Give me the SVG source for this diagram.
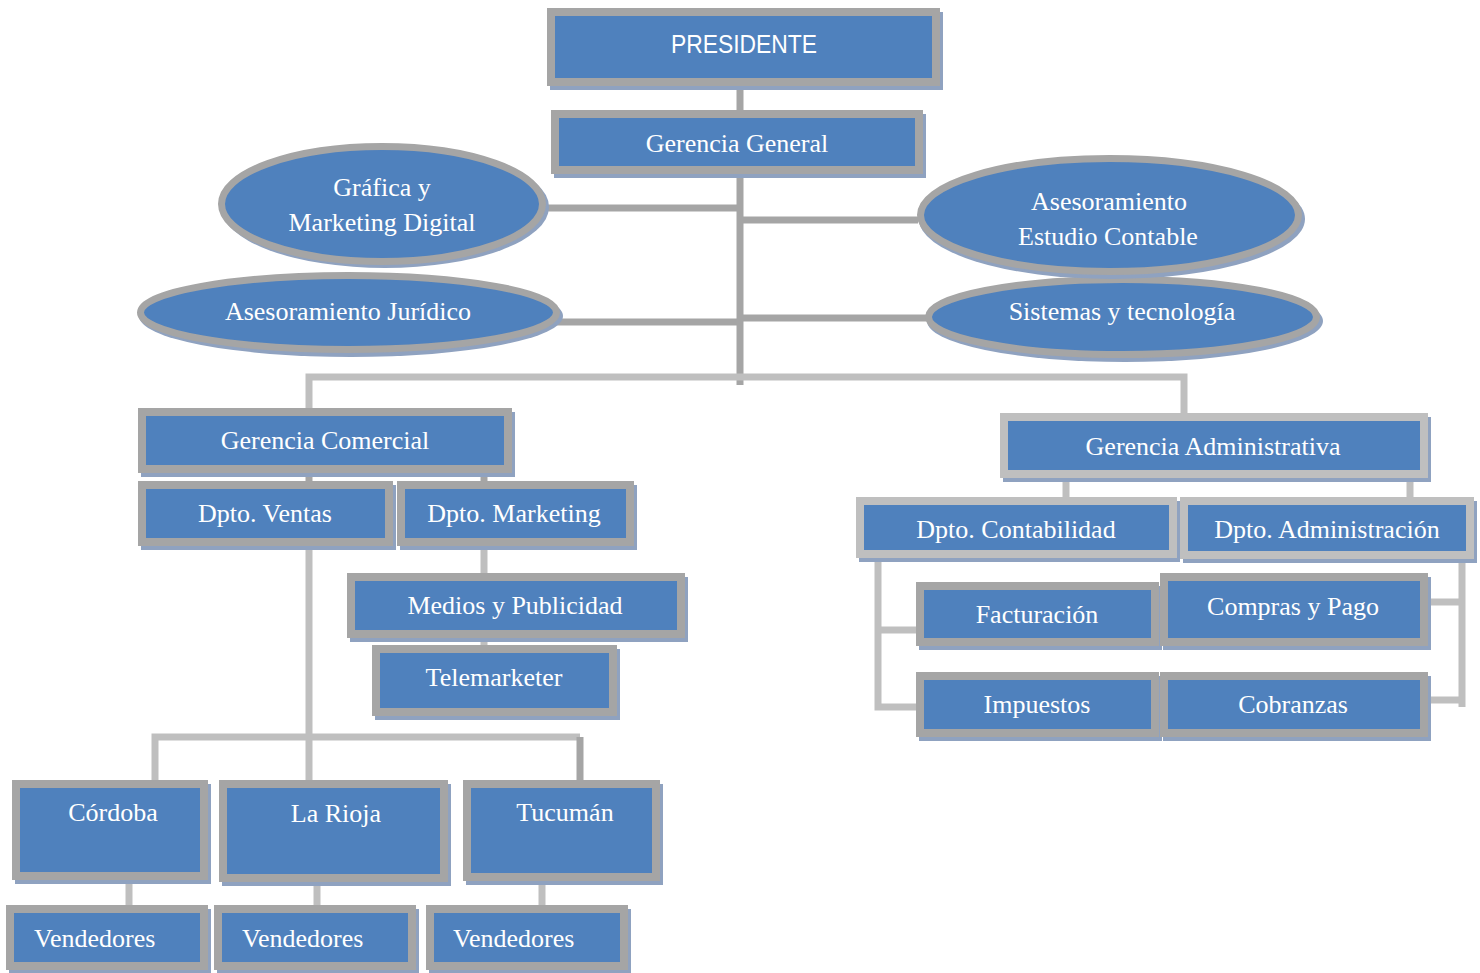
<svg xmlns="http://www.w3.org/2000/svg" width="1480" height="973" viewBox="0 0 1480 973">
<style>
.bx{fill:#4f81bd;stroke:#a5a5a5;stroke-width:8}
.bl{fill:#4f81bd;stroke:#bfbfbf;stroke-width:8}
.sh{fill:#8fa2c0}
.el{fill:#4f81bd;stroke:#a5a5a5;stroke-width:7}
.t{font-family:"Liberation Serif","Times New Roman",serif;font-size:26px;fill:#ffffff;text-anchor:middle}
.tl{font-family:"Liberation Serif","Times New Roman",serif;font-size:26px;fill:#ffffff}
.ts{font-family:"Liberation Sans",Arial,sans-serif;font-size:25px;fill:#ffffff;text-anchor:middle}
.c1{fill:none;stroke:#a5a5a5;stroke-width:7}
.c2{fill:none;stroke:#bfbfbf;stroke-width:7}
</style>
<rect width="1480" height="973" fill="#ffffff"/>
<g id="connectors">
<path class="c1" d="M740,86V110M740,174V385M545,208H740M556,322H740M740,220H918M740,318H926"/>
<path class="c2" d="M309,410V377H1184V415"/>
<path class="c1" d="M309,473V481M484,473V481"/>
<path class="c2" d="M309,546V780M484,546V573M484,638V645"/>
<path class="c2" d="M155,780V737H580"/>
<path class="c1" d="M580,737V780"/>
<path class="c2" d="M129,880V905M317,882V905M542,880V905"/>
<path class="c2" d="M1066,478V497M1410,478V497"/>
<path class="c2" d="M878,555V707H918M878,630H918"/>
<path class="c2" d="M1462,555V707M1428,602H1462M1428,700H1462"/>
</g>
<g id="n-presidente">
<rect class="sh" x="550" y="12" width="393" height="78"/>
<rect class="bx" x="551" y="12" width="385" height="70"/>
<text class="ts" x="744" y="53" textLength="146" lengthAdjust="spacingAndGlyphs">PRESIDENTE</text>
</g>
<g id="n-gerencia-general">
<rect class="sh" x="554" y="114" width="372" height="64"/>
<rect class="bx" x="555" y="114" width="364" height="56"/>
<text class="t" x="737" y="152">Gerencia General</text>
</g>
<g id="n-juridico">
<ellipse class="sh" cx="351" cy="316" rx="212" ry="41"/>
<ellipse class="el" cx="348.5" cy="312.5" rx="208" ry="37"/>
<text class="t" x="348" y="320">Asesoramiento Jurídico</text>
</g>
<g id="n-grafica">
<ellipse class="sh" cx="385" cy="207" rx="164" ry="61"/>
<ellipse class="el" cx="382" cy="204" rx="160.5" ry="57.5"/>
<text class="t" x="382" y="196">Gráfica y</text>
<text class="t" x="382" y="231">Marketing Digital</text>
</g>
<g id="n-sistemas">
<ellipse class="sh" cx="1125" cy="321" rx="198" ry="41"/>
<ellipse class="el" cx="1122.5" cy="317" rx="194" ry="37.5"/>
<text class="t" x="1122" y="320">Sistemas y tecnología</text>
</g>
<g id="n-contable">
<ellipse class="sh" cx="1112" cy="219" rx="193" ry="60"/>
<ellipse class="el" cx="1109.5" cy="215" rx="189" ry="56.5"/>
<text class="t" x="1109" y="210">Asesoramiento</text>
<text class="t" x="1108" y="245">Estudio Contable</text>
</g>
<g id="n-gerencia-comercial">
<rect class="sh" x="141" y="412" width="374" height="65"/>
<rect class="bx" x="142" y="412" width="366" height="57"/>
<text class="t" x="325" y="449">Gerencia Comercial</text>
</g>
<g id="n-ventas">
<rect class="sh" x="141" y="485" width="255" height="65"/>
<rect class="bx" x="142" y="485" width="247" height="57"/>
<text class="t" x="265" y="522">Dpto. Ventas</text>
</g>
<g id="n-marketing">
<rect class="sh" x="400" y="485" width="237" height="65"/>
<rect class="bx" x="401" y="485" width="229" height="57"/>
<text class="t" x="514" y="522">Dpto. Marketing</text>
</g>
<g id="n-medios">
<rect class="sh" x="350" y="577" width="338" height="65"/>
<rect class="bx" x="351" y="577" width="330" height="57"/>
<text class="t" x="515" y="614">Medios y Publicidad</text>
</g>
<g id="n-telemarketer">
<rect class="sh" x="375" y="649" width="245" height="71"/>
<rect class="bx" x="376" y="649" width="237" height="63"/>
<text class="t" x="494" y="686">Telemarketer</text>
</g>
<g id="n-cordoba">
<rect class="sh" x="15" y="784" width="196" height="100"/>
<rect class="bx" x="16" y="784" width="188" height="92"/>
<text class="t" x="113" y="821">Córdoba</text>
</g>
<g id="n-larioja">
<rect class="sh" x="222" y="784" width="229" height="102"/>
<rect class="bx" x="223" y="784" width="221" height="94"/>
<text class="t" x="336" y="822">La Rioja</text>
</g>
<g id="n-tucuman">
<rect class="sh" x="466" y="784" width="197" height="101"/>
<rect class="bx" x="467" y="784" width="189" height="93"/>
<text class="t" x="565" y="821">Tucumán</text>
</g>
<g id="n-vend1">
<rect class="sh" x="9" y="909" width="202" height="65"/>
<rect class="bx" x="10" y="909" width="194" height="57"/>
<text class="tl" x="34" y="947">Vendedores</text>
</g>
<g id="n-vend2">
<rect class="sh" x="217" y="909" width="202" height="65"/>
<rect class="bx" x="218" y="909" width="194" height="57"/>
<text class="tl" x="242" y="947">Vendedores</text>
</g>
<g id="n-vend3">
<rect class="sh" x="429" y="909" width="202" height="65"/>
<rect class="bx" x="430" y="909" width="194" height="57"/>
<text class="tl" x="453" y="947">Vendedores</text>
</g>
<g id="n-gerencia-administrativa">
<rect class="sh" x="1003" y="417" width="428" height="65"/>
<rect class="bl" x="1004" y="417" width="420" height="57"/>
<text class="t" x="1213" y="455">Gerencia Administrativa</text>
</g>
<g id="n-contabilidad">
<rect class="sh" x="859" y="501" width="321" height="61"/>
<rect class="bl" x="860" y="501" width="313" height="53"/>
<text class="t" x="1016" y="538">Dpto. Contabilidad</text>
</g>
<g id="n-administracion">
<rect class="sh" x="1183" y="501" width="294" height="62"/>
<rect class="bl" x="1184" y="501" width="286" height="54"/>
<text class="t" x="1327" y="538">Dpto. Administración</text>
</g>
<g id="n-facturacion">
<rect class="sh" x="919" y="586" width="243" height="64"/>
<rect class="bx" x="920" y="586" width="235" height="56"/>
<text class="t" x="1037" y="623">Facturación</text>
</g>
<g id="n-compras">
<rect class="sh" x="1163" y="577" width="268" height="73"/>
<rect class="bx" x="1164" y="577" width="260" height="65"/>
<text class="t" x="1293" y="615">Compras y Pago</text>
</g>
<g id="n-impuestos">
<rect class="sh" x="919" y="676" width="243" height="65"/>
<rect class="bx" x="920" y="676" width="235" height="57"/>
<text class="t" x="1037" y="713">Impuestos</text>
</g>
<g id="n-cobranzas">
<rect class="sh" x="1163" y="676" width="268" height="65"/>
<rect class="bx" x="1164" y="676" width="260" height="57"/>
<text class="t" x="1293" y="713">Cobranzas</text>
</g>
</svg>
